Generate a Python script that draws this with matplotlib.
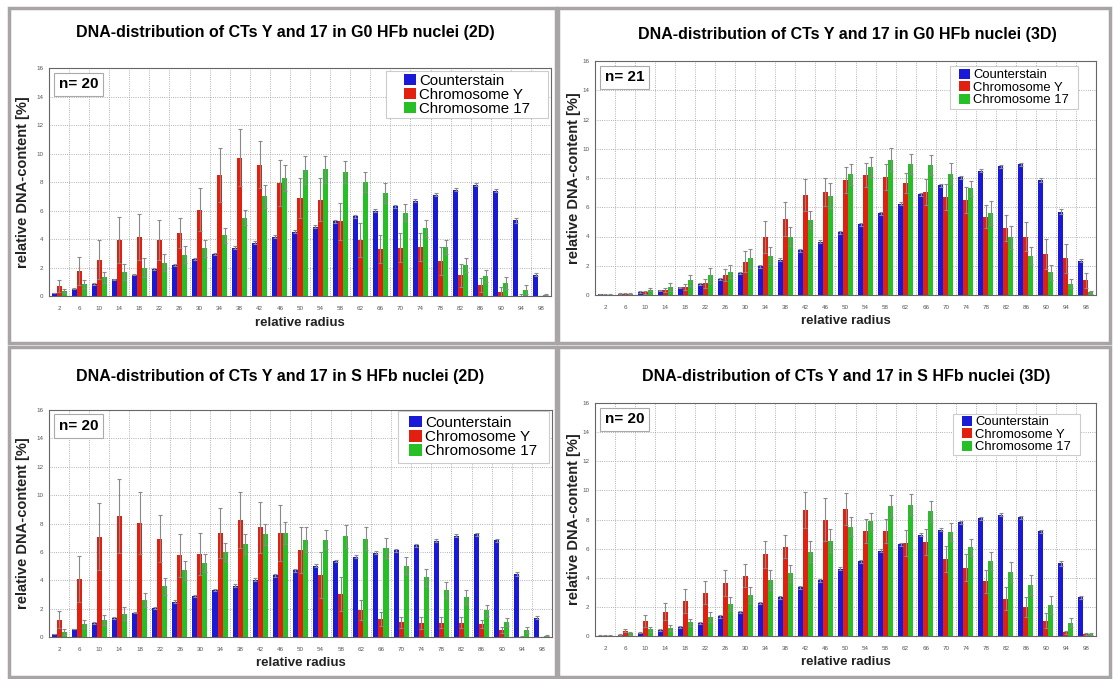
import matplotlib
matplotlib.use('Agg')
import matplotlib.pyplot as plt
from matplotlib.patches import Rectangle
import numpy as np

plt.rcParams['font.family'] = ['Liberation Sans', 'DejaVu Sans']

# relative radius bins
radius = ['2', '6', '10', '14', '18', '22', '26', '30', '34', '38', '42', '46', '50',
          '54', '58', '62', '66', '70', '74', '78', '82', '86', '90', '94', '98']
series_names = ['Counterstain', 'Chromosome Y', 'Chromosome 17']

# G0 HFb nuclei (2D), n=20
g0_2d_cs = [0.2, 0.5, 0.85, 1.17, 1.5, 1.9, 2.2, 2.6, 2.95, 3.4, 3.75, 4.15, 4.5, 4.85, 5.25,
            5.6, 6.0, 6.3, 6.7, 7.1, 7.45, 7.8, 7.4, 5.3, 1.5]
g0_2d_y = [0.7, 1.75, 2.55, 3.95, 4.15, 3.95, 4.4, 6.05, 8.5, 9.7, 9.2, 7.95, 6.9, 6.75, 5.25,
           3.95, 3.3, 3.4, 3.45, 2.45, 1.45, 0.75, 0.3, 0.02, 0.0]
g0_2d_y_err = [0.4, 1.0, 1.35, 1.6, 1.6, 1.4, 1.05, 1.5, 1.9, 2.0, 1.65, 1.6, 1.4, 1.5, 1.3,
               1.2, 1.0, 1.0, 1.0, 1.0, 0.8, 0.5, 0.3, 0.1, 0.0]
g0_2d_17 = [0.35, 0.85, 1.3, 1.7, 2.0, 2.35, 2.9, 3.35, 4.25, 5.5, 7.0, 8.3, 8.85, 8.9, 8.7,
            8.0, 7.25, 5.85, 4.75, 3.45, 2.2, 1.4, 0.9, 0.45, 0.1]
g0_2d_17_err = [0.15, 0.3, 0.4, 0.55, 0.65, 0.6, 0.6, 0.6, 0.55, 0.55, 0.8, 0.9, 1.0, 0.95, 0.8,
                0.7, 0.7, 0.6, 0.6, 0.5, 0.5, 0.4, 0.4, 0.3, 0.05]

# G0 HFb nuclei (3D), n=21
g0_3d_cs = [0.05, 0.1, 0.2, 0.32, 0.52, 0.75, 1.1, 1.5, 1.95, 2.4, 3.05, 3.65, 4.3, 4.85, 5.6,
            6.25, 6.9, 7.5, 8.05, 8.5, 8.8, 8.95, 7.85, 5.7, 2.35]
g0_3d_y = [0.02, 0.08, 0.2, 0.35, 0.55, 0.8, 1.37, 2.28, 3.96, 5.2, 6.85, 7.05, 7.85, 8.2, 8.05,
           7.65, 7.05, 6.7, 6.5, 5.35, 4.6, 4.0, 2.8, 2.5, 1.0]
g0_3d_y_err = [0.02, 0.05, 0.1, 0.15, 0.2, 0.3, 0.4, 0.7, 1.1, 1.15, 1.1, 0.95, 0.9, 0.8, 0.9,
               0.7, 0.9, 0.9, 0.9, 0.8, 0.9, 1.0, 1.0, 1.0, 0.5]
g0_3d_17 = [0.02, 0.1, 0.35, 0.55, 1.0, 1.35, 1.6, 2.5, 2.7, 4.0, 5.15, 6.8, 8.25, 8.75, 9.25,
            8.97, 8.9, 8.3, 7.3, 5.6, 3.95, 2.7, 1.55, 0.77, 0.18]
g0_3d_17_err = [0.02, 0.05, 0.1, 0.25, 0.4, 0.5, 0.45, 0.65, 0.55, 0.65, 0.6, 0.85, 0.7, 0.7, 0.8,
                0.7, 0.7, 0.7, 0.5, 0.8, 0.8, 0.6, 0.5, 0.3, 0.1]

# S HFb nuclei (2D), n=20
s_2d_cs = [0.2, 0.56, 1.0, 1.35, 1.72, 2.07, 2.5, 2.9, 3.3, 3.62, 4.05, 4.35, 4.7, 5.03, 5.36,
           5.65, 5.95, 6.1, 6.47, 6.78, 7.13, 7.25, 6.82, 4.45, 1.36]
s_2d_y = [1.22, 4.1, 7.06, 8.52, 8.05, 6.92, 5.76, 5.84, 7.34, 8.24, 7.74, 7.34, 6.12, 4.38, 3.0,
          1.88, 1.27, 1.04, 0.99, 1.0, 1.0, 0.9, 0.47, 0.03, 0.0]
s_2d_y_err = [0.6, 1.6, 2.35, 2.6, 2.2, 1.65, 1.5, 1.5, 1.75, 2.0, 1.8, 1.95, 1.6, 1.6, 1.2,
              0.7, 0.5, 0.4, 0.4, 0.4, 0.4, 0.3, 0.2, 0.02, 0.0]
s_2d_17 = [0.33, 0.9, 1.18, 1.65, 2.6, 3.58, 4.7, 5.22, 6.0, 6.55, 7.25, 7.34, 6.87, 6.87, 7.1,
           6.94, 6.3, 5.03, 4.2, 3.3, 2.82, 1.88, 1.06, 0.47, 0.1]
s_2d_17_err = [0.2, 0.3, 0.35, 0.45, 0.5, 0.6, 0.65, 0.65, 0.65, 0.7, 0.75, 0.8, 0.9, 0.7, 0.8,
               0.8, 0.7, 0.6, 0.6, 0.55, 0.5, 0.4, 0.3, 0.2, 0.05]

# S HFb nuclei (3D), n=20
s_3d_cs = [0.03, 0.1, 0.23, 0.41, 0.62, 0.91, 1.35, 1.67, 2.26, 2.65, 3.36, 3.84, 4.62, 5.12, 5.85,
           6.3, 6.95, 7.3, 7.8, 8.1, 8.32, 8.16, 7.18, 4.98, 2.65]
s_3d_y = [0.03, 0.35, 1.03, 1.67, 2.4, 2.97, 3.66, 4.14, 5.6, 6.13, 8.66, 8.0, 8.75, 7.22, 7.22,
          6.4, 6.47, 5.28, 4.7, 3.75, 2.56, 2.01, 1.05, 0.27, 0.14]
s_3d_y_err = [0.02, 0.1, 0.4, 0.6, 0.8, 0.8, 0.9, 0.8, 0.95, 0.8, 1.25, 1.5, 1.1, 0.8, 0.8,
              0.9, 0.9, 0.9, 0.9, 0.8, 0.8, 0.7, 0.5, 0.1, 0.05]
s_3d_17 = [0.02, 0.2, 0.45, 0.55, 0.95, 1.3, 2.2, 2.8, 3.85, 4.3, 5.8, 6.55, 7.5, 7.88, 8.91,
           9.03, 8.55, 7.15, 6.08, 5.15, 4.39, 3.5, 2.13, 0.91, 0.14]
s_3d_17_err = [0.05, 0.1, 0.15, 0.2, 0.25, 0.35, 0.5, 0.55, 0.7, 0.6, 0.7, 0.8, 0.65, 0.6, 0.75,
               0.7, 0.7, 0.6, 0.6, 0.65, 0.7, 0.7, 0.6, 0.3, 0.05]

# counterstain error is tiny everywhere
cs_err = [0.02, 0.03, 0.05, 0.05, 0.06, 0.07, 0.08, 0.08, 0.09, 0.1, 0.1, 0.1, 0.1, 0.1, 0.1,
          0.1, 0.1, 0.1, 0.1, 0.1, 0.1, 0.1, 0.12, 0.15, 0.1]

colors = ['#1a1ad6', '#e2200f', '#26c026']
W, H = 1113, 679


def px_box(l, t, r, b):
    return [l / W, 1 - b / H, (r - l) / W, (b - t) / H]


fig = plt.figure(figsize=(W / 100, H / 100), dpi=100)

# grey panel frames, kept behind the axes
for (l, t, r, b) in [(9, 8, 556, 343), (558, 8, 1110, 343), (9, 347, 556, 677), (558, 347, 1110, 677)]:
    fig.patches.append(Rectangle((l / W, 1 - b / H), (r - l) / W, (b - t) / H, transform=fig.transFigure,
                                 facecolor='white', edgecolor='#a9a5a7', linewidth=2.5, zorder=-5))

panels = [
    dict(title='DNA-distribution of CTs Y and 17 in G0 HFb nuclei (2D)', n='n= 20',
         data=(g0_2d_cs, g0_2d_y, g0_2d_17), err=(cs_err, g0_2d_y_err, g0_2d_17_err),
         ax=(49, 68, 551, 296), tx=285, ty=32, ylx=23, xly=323,
         leg=(386, 71, 548, 118), legsize=10.8),
    dict(title='DNA-distribution of CTs Y and 17 in G0 HFb nuclei (3D)', n='n= 21',
         data=(g0_3d_cs, g0_3d_y, g0_3d_17), err=(cs_err, g0_3d_y_err, g0_3d_17_err),
         ax=(595, 61, 1096, 295), tx=847, ty=34, ylx=574, xly=321,
         leg=(950, 66, 1078, 109), legsize=9.4),
    dict(title='DNA-distribution of CTs Y and 17 in S HFb nuclei (2D)', n='n= 20',
         data=(s_2d_cs, s_2d_y, s_2d_17), err=(cs_err, s_2d_y_err, s_2d_17_err),
         ax=(49, 410, 552, 637), tx=280, ty=377, ylx=23, xly=663,
         leg=(398, 411, 549, 463), legsize=11.0),
    dict(title='DNA-distribution of CTs Y and 17 in S HFb nuclei (3D)', n='n= 20',
         data=(s_3d_cs, s_3d_y, s_3d_17), err=(cs_err, s_3d_y_err, s_3d_17_err),
         ax=(595, 403, 1096, 636), tx=846, ty=376, ylx=574, xly=662,
         leg=(953, 414, 1080, 455), legsize=9.4),
]

x = np.arange(len(radius))
bw = 0.25

for p in panels:
    l, t, r, b = p['ax']
    ax = fig.add_axes(px_box(l, t, r, b))
    for i in range(3):
        ax.bar(x + (i - 1) * bw, p['data'][i], bw, color=colors[i], label=series_names[i], zorder=2,
               yerr=p['err'][i], ecolor='#8a8a8a',
               error_kw=dict(elinewidth=0.8, capsize=1.5, capthick=0.8))
    ax.set_xlim(-0.5, len(radius) - 0.5)
    ax.set_ylim(0, 16)
    ax.set_xticks(x)
    ax.set_xticklabels(radius)
    ax.set_yticks(range(0, 17, 2))
    ax.set_xticks(x + 0.5, minor=True)
    ax.tick_params(axis='both', which='both', length=0, labelsize=4.5, colors='#555555', pad=7)
    ax.tick_params(axis='y', pad=4)
    ax.grid(True, which='minor', axis='x', linestyle=':', color='#999999', linewidth=0.6)
    ax.grid(True, which='major', axis='y', linestyle=':', color='#999999', linewidth=0.6)
    ax.set_axisbelow(True)
    for s in ax.spines.values():
        s.set_color('#666666')
        s.set_linewidth(0.8)
    ax.text(0.02, 0.96, p['n'], transform=ax.transAxes, ha='left', va='top', fontsize=11,
            fontweight='bold', bbox=dict(boxstyle='square,pad=0.3', facecolor='white', edgecolor='#aaaaaa', lw=0.8))

    # legend frame drawn by hand so it can be wider than the entries
    ll, lt, lr, lb = p['leg']
    fx0 = (ll - l) / (r - l)
    fy0 = (b - lb) / (b - t)
    fw = (lr - ll) / (r - l)
    fh = (lb - lt) / (b - t)
    ax.add_patch(Rectangle((fx0, fy0), fw, fh, transform=ax.transAxes, facecolor='white',
                           edgecolor='#cccccc', linewidth=0.8, zorder=4))
    ax.legend(loc='center', bbox_to_anchor=(fx0 + fw / 2, fy0 + fh / 2), fontsize=p['legsize'],
              handlelength=0.8, handleheight=0.8, handletextpad=0.25, labelspacing=0.0,
              borderpad=0.0, frameon=False)

    fig.text(p['tx'] / W, 1 - p['ty'] / H, p['title'], ha='center', va='center', fontsize=11.5,
             fontweight='bold')
    fig.text(p['ylx'] / W, 1 - (t + b) / 2 / H, 'relative DNA-content [%]', rotation=90, ha='center',
             va='center', fontsize=10.5, fontweight='bold', color='#222222')
    fig.text((l + r) / 2 / W, 1 - p['xly'] / H, 'relative radius', ha='center', va='center',
             fontsize=9.5, fontweight='bold', color='#222222')

fig.savefig('out.png', dpi=100)
